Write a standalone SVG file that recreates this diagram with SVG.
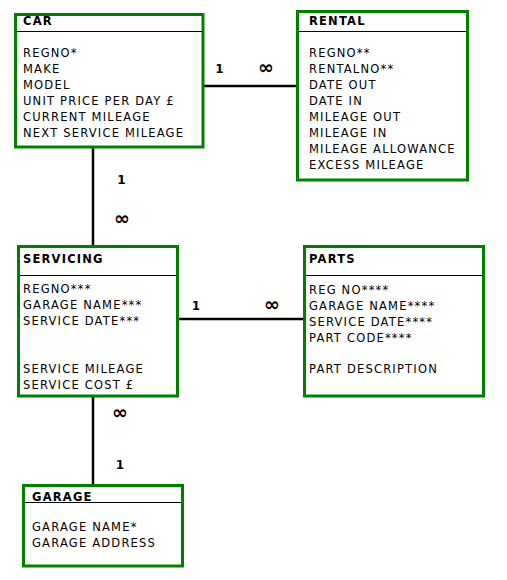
<svg xmlns="http://www.w3.org/2000/svg" width="507" height="580" viewBox="0 0 507 580">
<style>
.box{fill:#fff;stroke:#008000;stroke-width:3}
.hdr{stroke:#000;stroke-width:1}
.t{font-family:"DejaVu Sans",Verdana,sans-serif;font-size:11.5px;letter-spacing:1.2px;fill:#000}
.b{font-weight:bold}
.c{stroke:#000;stroke-width:2.5;fill:none}
.m{font-family:"DejaVu Sans",Verdana,sans-serif;font-weight:bold;font-size:12px;fill:#000;text-anchor:middle}
.inf{font-family:"DejaVu Sans",Verdana,sans-serif;font-weight:bold;font-size:19px;fill:#000;text-anchor:middle}
</style>
<rect width="507" height="580" fill="#fff"/>
<g id="connectors">
<line class="c" x1="204" y1="86" x2="296" y2="86"/>
<line class="c" x1="93" y1="148" x2="93" y2="245"/>
<line class="c" x1="179" y1="319" x2="304" y2="319"/>
<line class="c" x1="93" y1="397" x2="93" y2="485"/>
<text class="m" x="219.5" y="73">1</text>
<text class="inf" x="266" y="74">∞</text>
<text class="m" x="121.5" y="184">1</text>
<text class="inf" x="122" y="225">∞</text>
<text class="m" x="196" y="310">1</text>
<text class="inf" x="272" y="311">∞</text>
<text class="inf" x="120" y="419">∞</text>
<text class="m" x="120" y="469">1</text>
</g>
<g id="car">
<rect class="box" x="15.5" y="14.5" width="187.5" height="132.5"/>
<line class="hdr" x1="17" y1="31.5" x2="202" y2="31.5"/>
<text class="t b" x="23" y="25">CAR</text>
<text class="t" x="23" y="57">REGNO*</text>
<text class="t" x="23" y="73">MAKE</text>
<text class="t" x="23" y="89">MODEL</text>
<text class="t" x="23" y="105">UNIT PRICE PER DAY £</text>
<text class="t" x="23" y="121">CURRENT MILEAGE</text>
<text class="t" x="23" y="137">NEXT SERVICE MILEAGE</text>
</g>
<g id="rental">
<rect class="box" x="297.5" y="11.5" width="170" height="168.5"/>
<line class="hdr" x1="299" y1="31.5" x2="466" y2="31.5"/>
<text class="t b" x="309" y="25">RENTAL</text>
<text class="t" x="309" y="57">REGNO**</text>
<text class="t" x="309" y="73">RENTALNO**</text>
<text class="t" x="309" y="89">DATE OUT</text>
<text class="t" x="309" y="105">DATE IN</text>
<text class="t" x="309" y="121">MILEAGE OUT</text>
<text class="t" x="309" y="137">MILEAGE IN</text>
<text class="t" x="309" y="153">MILEAGE ALLOWANCE</text>
<text class="t" x="309" y="169">EXCESS MILEAGE</text>
</g>
<g id="servicing">
<rect class="box" x="18.5" y="246.5" width="159" height="149.5"/>
<line class="hdr" x1="20" y1="275.5" x2="176" y2="275.5"/>
<text class="t b" x="23" y="263">SERVICING</text>
<text class="t" x="23" y="293">REGNO***</text>
<text class="t" x="23" y="309">GARAGE NAME***</text>
<text class="t" x="23" y="325">SERVICE DATE***</text>
<text class="t" x="23" y="373">SERVICE MILEAGE</text>
<text class="t" x="23" y="389">SERVICE COST £</text>
</g>
<g id="parts">
<rect class="box" x="304.5" y="246.5" width="179" height="149.5"/>
<line class="hdr" x1="306" y1="275.5" x2="482" y2="275.5"/>
<text class="t b" x="309" y="263">PARTS</text>
<text class="t" x="309" y="294">REG NO****</text>
<text class="t" x="309" y="310">GARAGE NAME****</text>
<text class="t" x="309" y="326">SERVICE DATE****</text>
<text class="t" x="309" y="342">PART CODE****</text>
<text class="t" x="309" y="373">PART DESCRIPTION</text>
</g>
<g id="garage">
<rect class="box" x="23.5" y="485.5" width="159" height="80.5"/>
<line class="hdr" x1="25" y1="502.5" x2="181" y2="502.5"/>
<text class="t b" x="32" y="501">GARAGE</text>
<text class="t" x="32" y="531">GARAGE NAME*</text>
<text class="t" x="32" y="547">GARAGE ADDRESS</text>
</g>
</svg>
